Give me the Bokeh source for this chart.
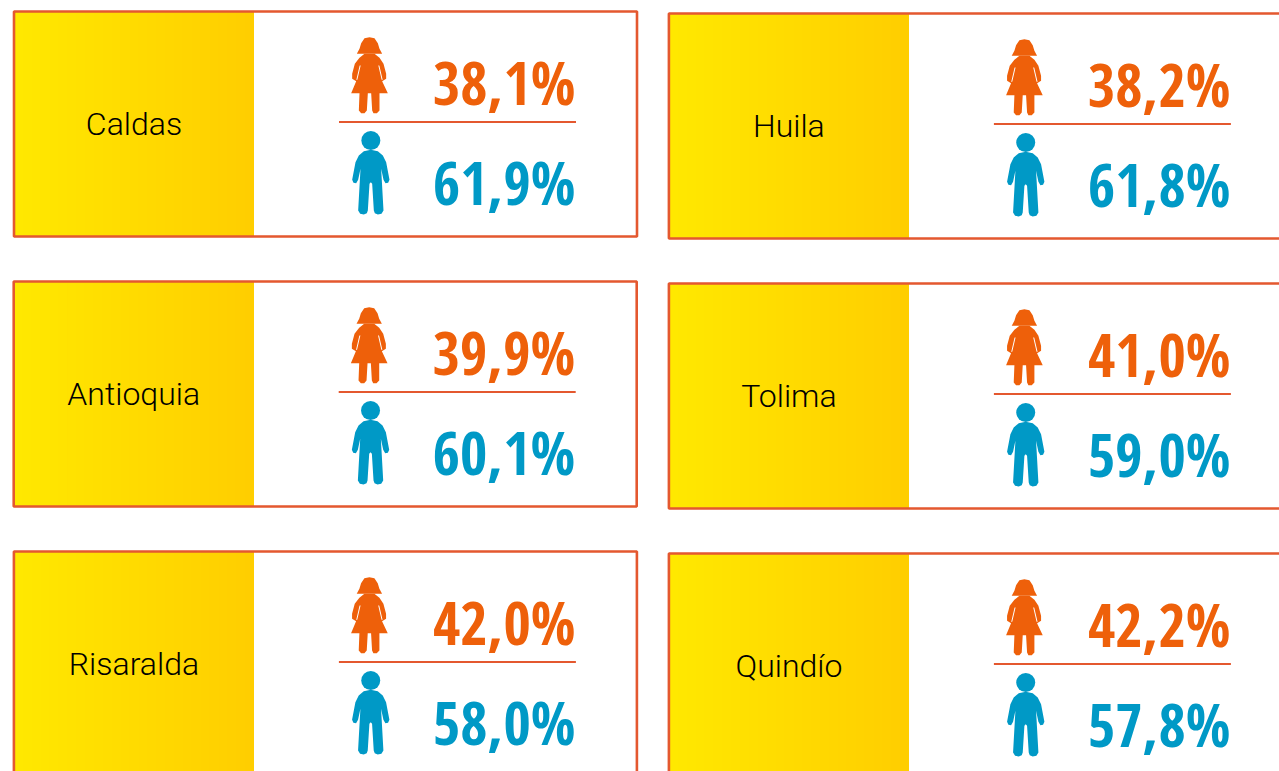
from bokeh.plotting import figure
from bokeh.models import Range1d
from bokeh.core.properties import value
from bokeh.embed import file_html
from bokeh.resources import INLINE

regions = ["Caldas", "Antioquia", "Risaralda", "Huila", "Tolima", "Quindío"]
mujeres = [38.1, 39.9, 42.0, 38.2, 41.0, 42.2]
hombres = [61.9, 60.1, 58.0, 61.8, 59.0, 57.8]
x0s = [13.5, 13.2, 13.4, 668.4, 668.4, 668.4]
y0s = [11, 281, 551, 13, 283, 553]

ORANGE, BLUE, RED = "#EE600A", "#0099C6", "#E4582F"
W, H, YW = 623, 225, 240
VALUE_FONT = value("Open Sans Condensed")
LABEL_FONT = value("Roboto Light")

GIRL_BODY = [(105,100),(135,100),(150,112),(162,130),(170,160),(170,175),(158,182),(175,218),(150,218),
             (150,270),(142,278),(132,278),(128,270),(125,218),(115,218),(112,270),(105,278),(95,278),
             (88,270),(90,218),(65,218),(80,182),(68,175),(68,160),(76,130),(90,112)]
GIRL_HAIR = [(120,50),(135,53),(145,68),(150,85),(158,100),(82,100),(90,85),(95,68),(105,53)]
BOY_BODY = [(124,388),(145,392),(160,405),(170,425),(180,478),(176,487),(168,488),(162,478),(155,445),
            (162,570),(156,580),(145,582),(136,578),(133,570),(128,490),(124,485),(120,490),(115,570),
            (112,578),(103,582),(92,580),(86,570),(93,445),(86,478),(80,488),(72,487),(68,478),(78,425),
            (88,405),(103,392)]

p = figure(width=1279, height=771, x_range=Range1d(0, 1279), y_range=Range1d(771, 0),
           output_backend="svg", toolbar_location=None, min_border=0, outline_line_color=None)
p.axis.visible = False
p.grid.visible = False
p.background_fill_color = "white"

def tr(pts, x0, y0):
    return [x0 + 315.5 + px / 3 for px, _ in pts], [y0 + 9 + py / 3 for _, py in pts]

STEPS = 27
for name, m, h, x0, y0 in zip(regions, mujeres, hombres, x0s, y0s):
    for i in range(STEPS):
        t = i / (STEPS - 1)
        col = "#%02X%02X%02X" % (255, round(232 - t * (232 - 206)), 0)
        p.quad(left=x0 + YW * i / STEPS, right=x0 + YW, top=y0, bottom=y0 + H, fill_color=col, line_color=None)
    p.quad(left=x0, right=x0 + W, top=y0, bottom=y0 + H, fill_color=None, line_color=RED, line_width=2.6)
    p.text(x=[x0 + 120], y=[y0 + 112], text=[name], text_font=LABEL_FONT, text_font_size="32px",
           text_align="center", text_baseline="middle", text_color="#000000")
    p.segment(x0=x0 + 325, x1=x0 + 562, y0=y0 + 110.5, y1=y0 + 110.5, line_color=RED, line_width=2.2)
    xs, ys = tr(GIRL_HAIR, x0, y0)
    p.patch(xs, ys, fill_color=ORANGE, line_color=None)
    xs, ys = tr(GIRL_BODY, x0, y0)
    p.patch(xs, ys, fill_color=ORANGE, line_color=None)
    for seg in ([(92,135),(82,178)], [(148,135),(158,178)]):
        xs, ys = tr(seg, x0, y0)
        p.line(xs, ys, line_color="white", line_width=1)
    xs, ys = tr(BOY_BODY, x0, y0)
    p.patch(xs, ys, fill_color=BLUE, line_color=None)
    hx, hy = tr([(124, 360)], x0, y0)
    p.circle(x=hx, y=hy, radius=9.5, fill_color=BLUE, line_color=None)
    for val, col, dy in ((m, ORANGE, 70), (h, BLUE, 170)):
        txt = f"{val:.1f}%".replace(".", ",")
        p.text(x=[x0 + 419], y=[y0 + dy], text=[txt], text_font=VALUE_FONT, text_font_size="59px",
               text_font_style="bold", text_align="left", text_baseline="middle", text_color=col)

open("out.html", "w").write(file_html(p, INLINE))
